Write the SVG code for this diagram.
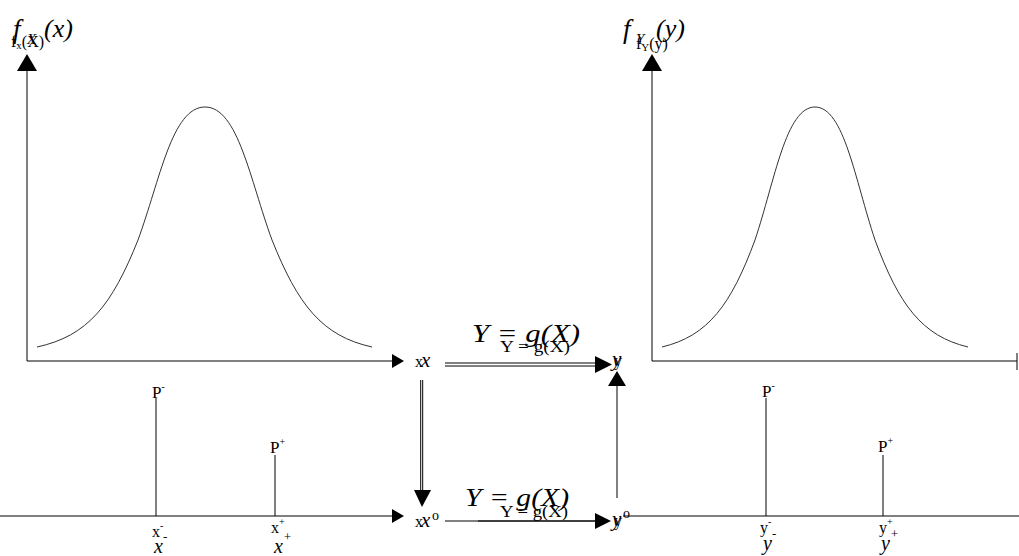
<svg xmlns="http://www.w3.org/2000/svg" width="1019" height="556" viewBox="0 0 1019 556">
<style>
.ln{stroke:#000;stroke-width:1;fill:none}
.cv{stroke:#333;stroke-width:1;fill:none}
.ah{fill:#000}
.it{font-family:"Liberation Serif",serif;font-style:italic;fill:#000}
.rm{font-family:"Liberation Serif",serif;fill:#000}
</style>
<rect width="1019" height="556" fill="#fff"/>
<g id="left-density">
<line class="ln" x1="27" y1="361" x2="27" y2="70"/>
<polygon class="ah" points="27,54 37,71 17,71"/>
<line class="ln" x1="27" y1="361" x2="392" y2="361"/>
<polygon class="ah" points="404,361 392,354 392,368"/>
<path class="cv" d="M37,347 C88,336 112,305 138,240 C160,180 172,107 205,107 C238,107 250,180 272,240 C298,305 322,336 372,347"/>
<text class="it" x="13" y="38" font-size="27">f</text>
<text class="it" x="27" y="44" font-size="15">X</text>
<text class="it" x="44" y="37" font-size="26">(x)</text>
<text class="rm" x="11" y="47" font-size="16">f<tspan font-size="11" dy="2">x</tspan><tspan dy="-2">(X)</tspan></text>
</g>
<g id="right-density">
<line class="ln" x1="652" y1="361" x2="652" y2="70"/>
<polygon class="ah" points="652,54 662,71 642,71"/>
<line class="ln" x1="652" y1="361" x2="1017" y2="361"/>
<line class="ln" x1="1017" y1="353" x2="1017" y2="370"/>
<path class="cv" d="M662,347 C708,336 731,305 755,240 C775,180 786,107 815,107 C844,107 855,180 875,240 C899,305 922,336 968,347"/>
<text class="it" x="623" y="38" font-size="27">f</text>
<text class="it" x="636" y="44" font-size="15">Y</text>
<text class="it" x="656" y="37" font-size="26">(y)</text>
<text class="rm" x="636" y="49" font-size="16">f<tspan font-size="11" dy="2">Y</tspan><tspan dy="-2">(y)</tspan></text>
</g>
<g id="left-discrete">
<line class="ln" x1="0" y1="516" x2="392" y2="516"/>
<polygon class="ah" points="404,516 392,509 392,523"/>
<line class="ln" x1="156" y1="398" x2="156" y2="516"/>
<line class="ln" x1="275" y1="455" x2="275" y2="516"/>
<text class="rm" x="152" y="398" font-size="17">P<tspan font-size="10" dy="-8">-</tspan></text>
<text class="rm" x="270" y="453" font-size="17">P<tspan font-size="10" dy="-8">+</tspan></text>
<text class="rm" x="152" y="537" font-size="16">x<tspan font-size="10" dy="-8">-</tspan></text>
<text class="it" x="154" y="553" font-size="20">x<tspan font-size="13" dy="-12">-</tspan></text>
<text class="rm" x="271" y="533" font-size="16">x<tspan font-size="10" dy="-8">+</tspan></text>
<text class="it" x="274" y="553" font-size="20">x<tspan font-size="13" dy="-12">+</tspan></text>
</g>
<g id="right-discrete">
<line class="ln" x1="623" y1="516" x2="1019" y2="516"/>
<line class="ln" x1="766" y1="398" x2="766" y2="516"/>
<line class="ln" x1="883" y1="455" x2="883" y2="516"/>
<text class="rm" x="762" y="397" font-size="17">P<tspan font-size="10" dy="-8">-</tspan></text>
<text class="rm" x="878" y="452" font-size="17">P<tspan font-size="10" dy="-8">+</tspan></text>
<text class="rm" x="760" y="533" font-size="16">y<tspan font-size="10" dy="-8">-</tspan></text>
<text class="it" x="763" y="550" font-size="20">y<tspan font-size="13" dy="-12">-</tspan></text>
<text class="rm" x="879" y="533" font-size="16">y<tspan font-size="10" dy="-8">+</tspan></text>
<text class="it" x="881" y="550" font-size="20">y<tspan font-size="13" dy="-12">+</tspan></text>
</g>
<g id="node-x">
<text class="rm" x="415" y="367" font-size="16">x</text>
<text class="it" x="421" y="367" font-size="21">x</text>
</g>
<g id="node-y">
<text class="it" x="612" y="366" font-size="21">y</text>
<text class="rm" x="614" y="366" font-size="16">y</text>
</g>
<g id="node-xo">
<text class="rm" x="415" y="527" font-size="16">x</text>
<text class="it" x="421" y="527" font-size="21">x</text>
<text class="rm" x="432" y="520" font-size="14">o</text>
</g>
<g id="node-yo">
<text class="it" x="612" y="526" font-size="21">y</text>
<text class="rm" x="614" y="526" font-size="16">y</text>
<text class="rm" x="623" y="518" font-size="14">o</text>
</g>
<g id="connectors">
<line class="ln" x1="445" y1="363" x2="597" y2="363"/>
<line class="ln" x1="445" y1="366" x2="597" y2="366"/>
<polygon class="ah" points="612,364.5 595,356 595,373"/>
<line class="ln" x1="420.7" y1="380" x2="420.7" y2="492"/>
<line class="ln" x1="422.7" y1="380" x2="422.7" y2="492"/>
<polygon class="ah" points="422,507 414,490 431,490"/>
<line class="ln" x1="445" y1="521" x2="597" y2="521"/>
<line class="ln" x1="478" y1="521" x2="597" y2="521" stroke-width="2"/>
<polygon class="ah" points="611,521 595,513 595,529"/>
<line class="ln" x1="617" y1="498" x2="617" y2="385" stroke-width="1.5"/>
<polygon class="ah" points="617,371 608,386 626,386"/>
<text class="it" x="472" y="342" font-size="26" textLength="108" lengthAdjust="spacingAndGlyphs">Y = g(X)</text>
<text class="rm" x="500" y="352" font-size="16" textLength="70" lengthAdjust="spacingAndGlyphs">Y = g(X)</text>
<text class="it" x="465" y="506" font-size="26" textLength="104" lengthAdjust="spacingAndGlyphs">Y = g(X)</text>
<text class="rm" x="500" y="517" font-size="16" textLength="68" lengthAdjust="spacingAndGlyphs">Y = g(X)</text>
</g>
</svg>
